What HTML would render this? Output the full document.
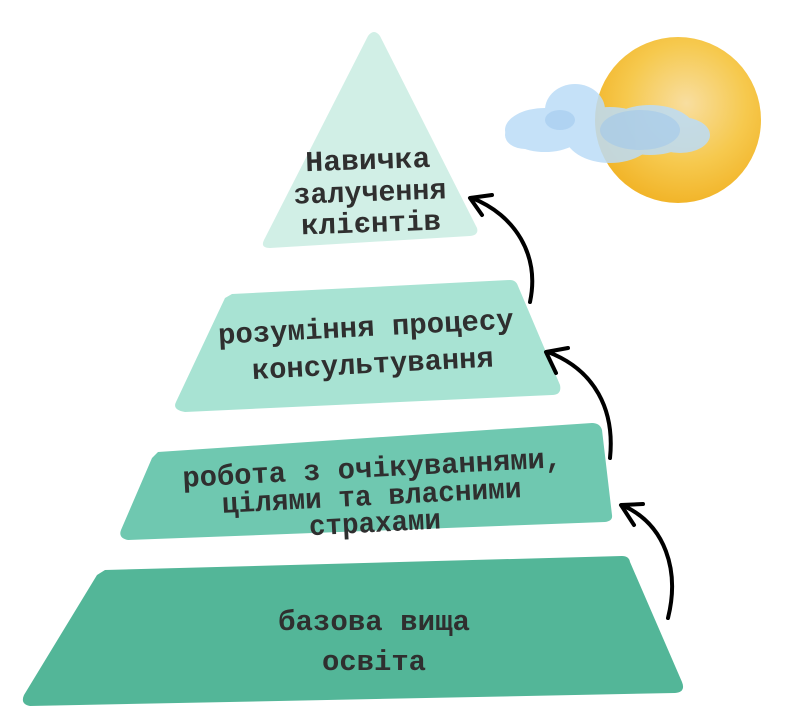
<!DOCTYPE html>
<html><head><meta charset="utf-8"><style>
html,body{margin:0;padding:0;background:#fff;}
svg{display:block}
text{font-family:"Liberation Mono","DejaVu Sans Mono",monospace;font-weight:bold;fill:#2f2f2f;font-size:29px;text-anchor:middle}
</style></head><body>
<svg width="789" height="716" viewBox="0 0 789 716" xmlns="http://www.w3.org/2000/svg">
<defs>
<radialGradient id="sun" cx="0.55" cy="0.4" r="0.6">
<stop offset="0" stop-color="#f8dea0"/><stop offset="0.6" stop-color="#f6c94e"/><stop offset="1" stop-color="#f2b52a"/>
</radialGradient>
</defs>
<circle cx="678" cy="120" r="83" fill="url(#sun)"/>
<g fill="#bcdcf7" opacity="0.85">
<ellipse cx="545" cy="130" rx="40" ry="22"/>
<ellipse cx="575" cy="110" rx="30" ry="26"/>
<ellipse cx="610" cy="135" rx="45" ry="28"/>
<ellipse cx="650" cy="130" rx="45" ry="25"/>
<ellipse cx="680" cy="135" rx="30" ry="18"/>
<ellipse cx="525" cy="135" rx="20" ry="14"/>
</g>
<g fill="#9cc6ee" opacity="0.5">
<ellipse cx="640" cy="130" rx="40" ry="20"/>
<ellipse cx="560" cy="120" rx="15" ry="10"/>
</g>
<path d="M368,36 Q374,28 380,36 L477,228 Q479,235 470,236 L270,248 Q260,248 264,240 Z" fill="#d1efe6"/>
<path d="M232,294 L510,280 Q516,280 518,286 L560,385 Q562,395 552,395 L185,412 Q172,410 176,402 L225,298 Z" fill="#a8e3d3"/>
<path d="M158,452 L592,423 Q600,423 602,430 L612,515 Q613,521 605,522 L128,540 Q118,538 121,530 L152,458 Z" fill="#6fc8b0"/>
<path d="M105,570 L622,556 Q629,556 630,562 L682,682 Q686,692 675,693 L30,706 Q20,704 24,695 L97,575 Z" fill="#53b698"/>
<g transform="rotate(-2 370 195)">
<text x="369" y="169" textLength="125" lengthAdjust="spacingAndGlyphs">Навичка</text>
<text x="370" y="201" textLength="153" lengthAdjust="spacingAndGlyphs">залучення</text>
<text x="370" y="232" textLength="140" lengthAdjust="spacingAndGlyphs">клієнтів</text>
</g>
<g transform="rotate(-3 368 350)">
<text x="367" y="336" textLength="296" lengthAdjust="spacingAndGlyphs">розуміння процесу</text>
<text x="372" y="373" textLength="242" lengthAdjust="spacingAndGlyphs">консультування</text>
</g>
<g transform="rotate(-3 372 504)">
<text x="374" y="477" textLength="380" lengthAdjust="spacingAndGlyphs">робота з очікуваннями,</text>
<text x="372" y="505" textLength="300" lengthAdjust="spacingAndGlyphs">цілями та власними</text>
<text x="374" y="532" textLength="132" lengthAdjust="spacingAndGlyphs">страхами</text>
</g>
<text x="374" y="630" textLength="192" lengthAdjust="spacingAndGlyphs">базова вища</text>
<text x="374" y="670" textLength="104" lengthAdjust="spacingAndGlyphs">освіта</text>
<g fill="none" stroke="#000" stroke-width="4" stroke-linecap="round" stroke-linejoin="round">
<path d="M530,302 C540,255 515,215 472,198"/>
<path d="M482,215 L470,198 L492,195"/>
<path d="M610,458 C615,410 595,370 548,352"/>
<path d="M556,373 L546,352 L568,348"/>
<path d="M668,618 C680,570 665,525 624,506"/>
<path d="M634,525 L621,505 L643,504"/>
</g>
</svg>
</body></html>
